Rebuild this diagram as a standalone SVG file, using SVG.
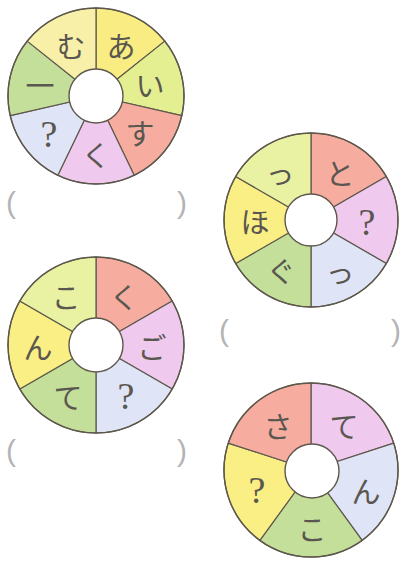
<svg xmlns="http://www.w3.org/2000/svg" width="401" height="563" viewBox="0 0 401 563">
<style>
.seg{stroke:#5e584c;stroke-width:1.2;stroke-linejoin:round}
.hole{fill:#fff;stroke:#5e584c;stroke-width:1.4}
.rim{fill:none;stroke:#5e584c;stroke-width:1.4}
.ch{font-family:"Noto Sans CJK JP","Noto Sans",sans-serif;font-size:29px;fill:#5a5650;text-anchor:middle;dominant-baseline:central}
.q{font-family:"Liberation Serif",serif;font-size:38px;fill:#5a5650;text-anchor:middle;dominant-baseline:central}
.par{font-family:"Liberation Sans",sans-serif;font-size:30px;fill:#b4b4b4;text-anchor:middle;dominant-baseline:central}
.salmon{fill:#f6ada0}.pink{fill:#f0c9ee}.blue{fill:#dfe4f6}.green{fill:#c4df9a}.yellow{fill:#faef85}.pale{fill:#e9f1a2}
</style>
<rect width="401" height="563" fill="#fff"/>
<g id="wheel1">
<path class="seg" style="fill:#f9ec82" d="M96,96 L96,8 A88,88 0 0 1 164.8,41.13 Z"/>
<path class="seg" style="fill:#e3ef90" d="M96,96 L164.8,41.13 A88,88 0 0 1 181.79,115.58 Z"/>
<path class="seg salmon" d="M96,96 L181.79,115.58 A88,88 0 0 1 134.18,175.29 Z"/>
<path class="seg pink" d="M96,96 L134.18,175.29 A88,88 0 0 1 57.82,175.29 Z"/>
<path class="seg blue" d="M96,96 L57.82,175.29 A88,88 0 0 1 10.21,115.58 Z"/>
<path class="seg green" d="M96,96 L10.21,115.58 A88,88 0 0 1 27.2,41.13 Z"/>
<path class="seg" style="fill:#f8f0a8" d="M96,96 L27.2,41.13 A88,88 0 0 1 96,8 Z"/>
<circle class="rim" cx="96" cy="96" r="88"/>
<circle class="hole" cx="96" cy="96" r="27"/>
<text class="ch" x="121" y="45">あ</text>
<text class="ch" x="150" y="84">い</text>
<text class="ch" x="140" y="132">す</text>
<text class="ch" x="96" y="154">く</text>
<text class="q" x="49" y="134">?</text>
<text class="ch" x="40" y="84">一</text>
<text class="ch" x="71" y="45">む</text>
<text class="par" x="11" y="202">(</text>
<text class="par" x="182" y="202">)</text>
</g>
<g id="wheel2">
<path class="seg salmon" d="M311,220 L311,133 A87,87 0 0 1 386.34,176.5 Z"/>
<path class="seg pink" d="M311,220 L386.34,176.5 A87,87 0 0 1 386.34,263.5 Z"/>
<path class="seg blue" d="M311,220 L386.34,263.5 A87,87 0 0 1 311,307 Z"/>
<path class="seg green" d="M311,220 L311,307 A87,87 0 0 1 235.66,263.5 Z"/>
<path class="seg yellow" d="M311,220 L235.66,263.5 A87,87 0 0 1 235.66,176.5 Z"/>
<path class="seg pale" d="M311,220 L235.66,176.5 A87,87 0 0 1 311,133 Z"/>
<circle class="rim" cx="311" cy="220" r="87"/>
<circle class="hole" cx="311" cy="220" r="26"/>
<text class="ch" x="340" y="172">と</text>
<text class="q" x="367" y="222">?</text>
<text class="ch" x="340" y="271">っ</text>
<text class="ch" x="281" y="270">ぐ</text>
<text class="ch" x="255" y="220">ほ</text>
<text class="ch" x="280" y="172">っ</text>
<text class="par" x="224" y="330">(</text>
<text class="par" x="396" y="330">)</text>
</g>
<g id="wheel3">
<path class="seg salmon" d="M96,345 L96,257 A88,88 0 0 1 172.21,301 Z"/>
<path class="seg pink" d="M96,345 L172.21,301 A88,88 0 0 1 172.21,389 Z"/>
<path class="seg blue" d="M96,345 L172.21,389 A88,88 0 0 1 96,433 Z"/>
<path class="seg green" d="M96,345 L96,433 A88,88 0 0 1 19.79,389 Z"/>
<path class="seg yellow" d="M96,345 L19.79,389 A88,88 0 0 1 19.79,301 Z"/>
<path class="seg pale" d="M96,345 L19.79,301 A88,88 0 0 1 96,257 Z"/>
<circle class="rim" cx="96" cy="345" r="88"/>
<circle class="hole" cx="96" cy="345" r="27"/>
<text class="ch" x="124" y="296">く</text>
<text class="ch" x="152" y="346">ご</text>
<text class="q" x="126" y="396">?</text>
<text class="ch" x="68" y="396">て</text>
<text class="ch" x="38" y="346">ん</text>
<text class="ch" x="66" y="296">こ</text>
<text class="par" x="11" y="450">(</text>
<text class="par" x="182" y="450">)</text>
</g>
<g id="wheel4">
<path class="seg pink" d="M311,470 L311,383 A87,87 0 0 1 393.74,443.11 Z"/>
<path class="seg blue" d="M311,470 L393.74,443.11 A87,87 0 0 1 362.14,540.39 Z"/>
<path class="seg green" d="M311,470 L362.14,540.39 A87,87 0 0 1 259.86,540.39 Z"/>
<path class="seg yellow" d="M311,470 L259.86,540.39 A87,87 0 0 1 228.26,443.11 Z"/>
<path class="seg salmon" d="M311,470 L228.26,443.11 A87,87 0 0 1 311,383 Z"/>
<circle class="rim" cx="311" cy="470" r="87"/>
<circle class="hole" cx="312" cy="471" r="27"/>
<text class="ch" x="344" y="425">て</text>
<text class="ch" x="366" y="490">ん</text>
<text class="ch" x="312" y="528">こ</text>
<text class="q" x="257" y="490">?</text>
<text class="ch" x="278" y="425">さ</text>
</g>
</svg>
